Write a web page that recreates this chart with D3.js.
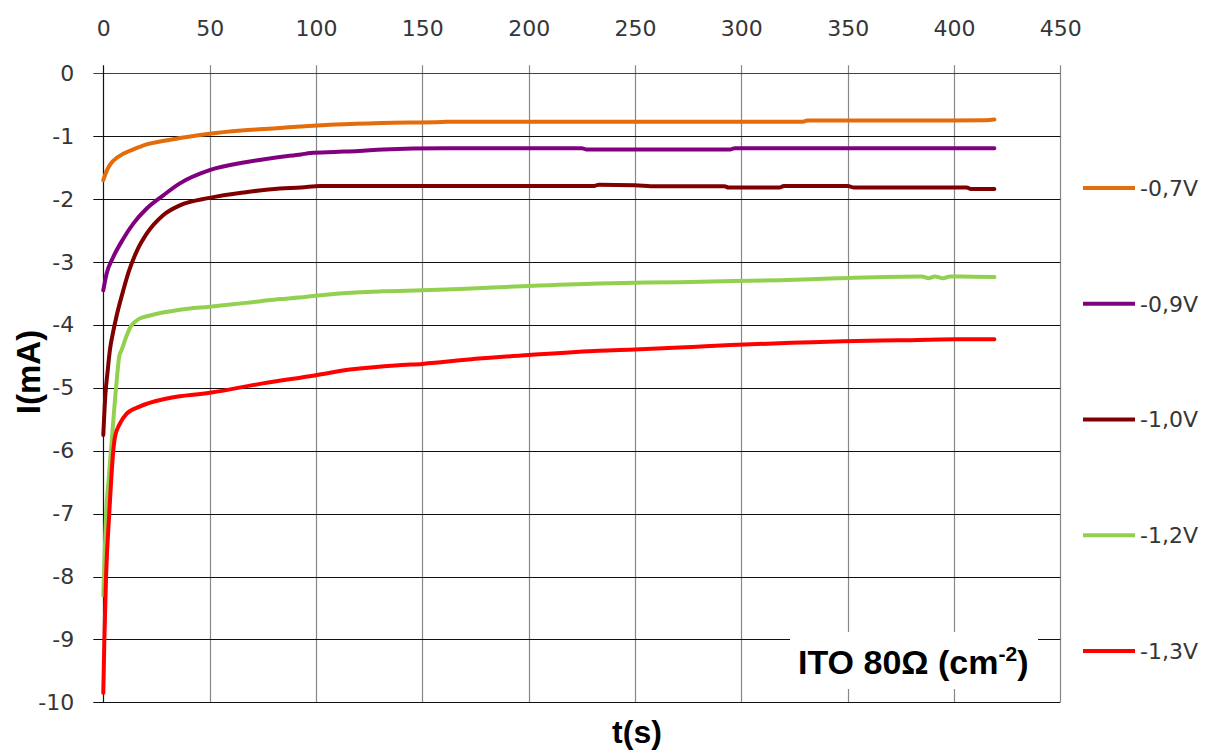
<!DOCTYPE html>
<html><head><meta charset="utf-8">
<script src="https://cdn.jsdelivr.net/npm/d3@7"></script>
<style>body{margin:0;background:#fff}svg{display:block}</style>
</head><body>
<svg id="c" width="1206" height="752"></svg>
<script>
// Tick values
const xTicks = [0, 50, 100, 150, 200, 250, 300, 350, 400, 450];
const yTicks = [0, -1, -2, -3, -4, -5, -6, -7, -8, -9, -10];
// Series labels and colours
const seriesNames = ["-0,7V", "-0,9V", "-1,0V", "-1,2V", "-1,3V"];
const seriesColors = ["#E46C0A", "#800080", "#800000", "#92D050", "#FF0000"];
// -0,7V
const t07 = [0, 1, 2.5, 4.7, 9.4, 14.1, 20.4, 28, 36, 50, 65, 83, 93, 109, 131, 159, 161, 200, 250, 300, 329, 331, 380, 415, 419];
const i07 = [-1.70, -1.60, -1.49, -1.39, -1.28, -1.21, -1.13, -1.076, -1.03, -0.96, -0.91, -0.87, -0.845, -0.815, -0.79, -0.775, -0.77, -0.77, -0.77, -0.77, -0.77, -0.752, -0.75, -0.748, -0.735];
// -0,9V
const t09 = [0, 1.6, 4.7, 9.4, 14.1, 20.4, 28.2, 36, 50, 67.5, 83, 93, 97.5, 109, 120, 131.5, 160, 225, 227, 295, 297, 419];
const i09 = [-3.45, -3.18, -2.92, -2.63, -2.39, -2.15, -1.94, -1.75, -1.54, -1.41, -1.33, -1.29, -1.267, -1.25, -1.235, -1.21, -1.19, -1.19, -1.21, -1.21, -1.19, -1.19];
// -1,0V
const t10 = [0, 1, 2, 3.1, 4.7, 6.3, 9.4, 12, 15.7, 20.4, 28, 36, 50, 67, 83, 93, 102, 231, 233, 250, 260, 292, 294, 318, 320, 350, 353, 406, 408, 419];
const i10 = [-5.75, -5.1, -4.75, -4.4, -4.1, -3.85, -3.45, -3.15, -2.83, -2.55, -2.26, -2.10, -1.98, -1.89, -1.83, -1.815, -1.79, -1.79, -1.77, -1.78, -1.795, -1.795, -1.817, -1.817, -1.79, -1.79, -1.817, -1.817, -1.84, -1.84];
// -1,2V
const t12 = [0, 0.3, 1.3, 2.4, 3.6, 6, 7.5, 8.6, 11, 13, 15, 17, 22, 36, 50, 67, 83, 92, 100, 111, 131.5, 150, 168, 183, 200, 233, 250, 271, 286, 318, 345, 385, 388, 391, 395, 398, 403, 419];
const i12 = [-8.3, -8.0, -7.0, -6.5, -6.0, -5.0, -4.5, -4.4, -4.17, -4.02, -3.95, -3.9, -3.85, -3.76, -3.71, -3.65, -3.59, -3.566, -3.535, -3.50, -3.466, -3.45, -3.43, -3.407, -3.38, -3.34, -3.33, -3.32, -3.31, -3.29, -3.26, -3.23, -3.26, -3.23, -3.26, -3.23, -3.23, -3.24];
// -1,3V
const t13 = [0, 0.5, 1.3, 2.8, 4.7, 5.5, 7.8, 11, 17, 30, 50, 75, 100, 116, 139, 150, 175, 200, 233, 250, 271, 277, 295, 328, 348, 374, 401, 419];
const i13 = [-9.85, -9.0, -8.0, -7.0, -6.0, -5.78, -5.57, -5.41, -5.3, -5.17, -5.08, -4.93, -4.80, -4.71, -4.64, -4.62, -4.54, -4.48, -4.41, -4.39, -4.36, -4.35, -4.32, -4.28, -4.26, -4.245, -4.23, -4.23];

const seriesT = [t07, t09, t10, t12, t13];
const seriesI = [i07, i09, i10, i12, i13];

const svg = d3.select("#c");
const x = d3.scaleLinear().domain([0, 450]).range([103.3, 1060.3]);
const y = d3.scaleLinear().domain([-10, 0]).range([702.3, 73.3]);
const tickFont = "'DejaVu Sans', Verdana, sans-serif";

// vertical grid lines
svg.append("g").selectAll("line").data(xTicks.slice(1)).join("line")
  .attr("x1", d => Math.round(x(d)) + 0.5).attr("x2", d => Math.round(x(d)) + 0.5)
  .attr("y1", y(0) - 8).attr("y2", y(-10))
  .attr("stroke", "#878787").attr("stroke-width", 1.2);
// horizontal grid lines
svg.append("g").selectAll("line").data(yTicks).join("line")
  .attr("x1", x(0) - 10).attr("x2", x(450))
  .attr("y1", d => Math.round(y(d)) + 0.5).attr("y2", d => Math.round(y(d)) + 0.5)
  .attr("stroke", d => d === 0 ? "#404040" : "#111").attr("stroke-width", 1.2);
// left axis line
svg.append("line")
  .attr("x1", Math.round(x(0)) + 0.5).attr("x2", Math.round(x(0)) + 0.5)
  .attr("y1", y(0) - 8).attr("y2", y(-10))
  .attr("stroke", "#111").attr("stroke-width", 1.2);

// axes (labels)
const xAxis = svg.append("g").attr("transform", `translate(0,${y(0)})`)
  .call(d3.axisTop(x).tickValues(xTicks).tickSize(0).tickPadding(37).tickFormat(d => String(d)));
const yAxis = svg.append("g").attr("transform", `translate(${x(0)},0)`)
  .call(d3.axisLeft(y).tickValues(yTicks).tickSize(0).tickPadding(29).tickFormat(d => String(d)));
[xAxis, yAxis].forEach(a => {
  a.select(".domain").remove();
  a.selectAll("text").attr("font-family", tickFont).attr("font-size", 22).attr("fill", "#363636");
});

// annotation box
svg.append("rect").attr("x", 790).attr("y", 632).attr("width", 248).attr("height", 57).attr("fill", "#fff");
const ann = svg.append("text").attr("x", 798).attr("y", 674)
  .attr("font-family", "'Liberation Sans', Arial, sans-serif").attr("font-weight", "bold")
  .attr("font-size", 34).attr("fill", "#000");
ann.append("tspan").text("ITO 80Ω (cm");
ann.append("tspan").attr("font-size", 21).attr("dy", -13).text("-2");
ann.append("tspan").attr("dy", 13).text(")");

// series
const line = d3.line().x(d => x(d[0])).y(d => y(d[1])).curve(d3.curveMonotoneX);
seriesNames.forEach((name, k) => {
  const pts = seriesT[k].map((t, j) => [t, seriesI[k][j]]);
  svg.append("path").datum(pts).attr("d", line)
    .attr("fill", "none").attr("stroke", seriesColors[k])
    .attr("stroke-width", 4).attr("stroke-linejoin", "round").attr("stroke-linecap", "round");
});

// legend
const legY = d3.scaleLinear().domain([0, 4]).range([188, 651]);
const leg = svg.append("g").selectAll("g").data(seriesNames).join("g")
  .attr("transform", (d, k) => `translate(0,${legY(k)})`);
leg.append("line").attr("x1", 1083).attr("x2", 1135).attr("y1", 0).attr("y2", 0)
  .attr("stroke", (d, k) => seriesColors[k]).attr("stroke-width", 4);
leg.append("text").attr("x", 1140).attr("y", 0).attr("dy", "0.36em")
  .attr("font-family", tickFont).attr("font-size", 22).attr("fill", "#363636").text(d => d);

// axis titles
svg.append("text").attr("x", 637).attr("y", 743).attr("text-anchor", "middle")
  .attr("font-family", "'Liberation Sans', Arial, sans-serif").attr("font-weight", "bold")
  .attr("font-size", 32).attr("fill", "#000").text("t(s)");
svg.append("text").attr("transform", "translate(40,372) rotate(-90)").attr("text-anchor", "middle")
  .attr("font-family", "'Liberation Sans', Arial, sans-serif").attr("font-weight", "bold")
  .attr("font-size", 33).attr("fill", "#000").text("I(mA)");
</script>
</body></html>
